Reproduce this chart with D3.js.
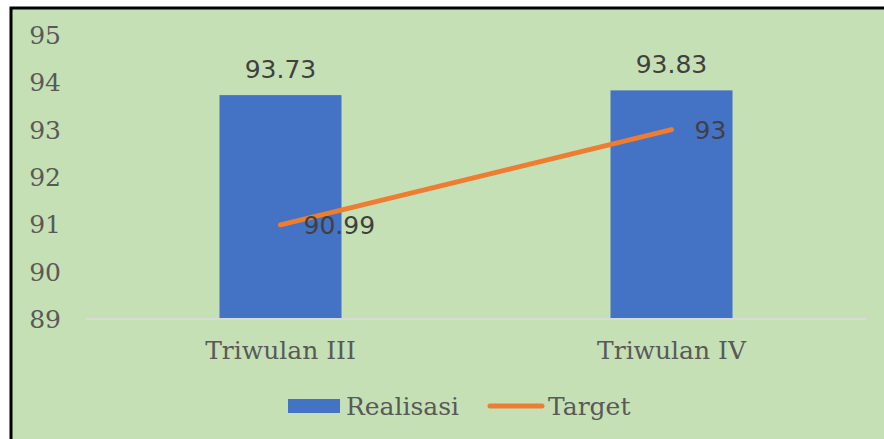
<!DOCTYPE html>
<html>
<head>
<meta charset="utf-8">
<script src="https://cdnjs.cloudflare.com/ajax/libs/d3/7.8.5/d3.min.js"></script>
<style>
  body { margin: 0; background: #fff; }
</style>
</head>
<body>
<svg id="chart"></svg>
<script>
  // chart data
  var categories = ['Triwulan III', 'Triwulan IV'];
  var realisasi  = [93.73, 93.83];
  var target     = [90.99, 93];
  var yTicks     = [89, 90, 91, 92, 93, 94, 95];
  var legendKeys = ['Realisasi', 'Target'];

  var width  = 884,
      height = 439,
      blue   = '#4472C4',
      orange = '#ED7D31',
      serif  = '"DejaVu Serif", "Liberation Serif", serif',
      sans   = '"DejaVu Sans", Verdana, sans-serif';

  var svg = d3.select('#chart').attr('width', width).attr('height', height);

  // green panel with black border (cut off at right and bottom)
  svg.append('rect')
     .attr('x', 11).attr('y', 8)
     .attr('width', width + 20).attr('height', height + 20)
     .attr('fill', '#C5E0B4')
     .attr('stroke', '#000').attr('stroke-width', 3);

  var x = d3.scaleBand().domain(categories).range([85, 867]).paddingInner(0).paddingOuter(0);
  var y = d3.scaleLinear().domain([89, 95]).range([319, 35]);
  var barW = 122;

  // y tick labels
  svg.append('g').selectAll('text')
     .data(yTicks).enter().append('text')
     .attr('x', 61).attr('y', function(d) { return y(d); })
     .attr('dy', '0.36em')
     .attr('text-anchor', 'end')
     .style('font-family', serif).style('font-size', '25px')
     .attr('fill', '#595959')
     .text(function(d) { return d; });

  // bars
  svg.append('g').selectAll('rect')
     .data(realisasi).enter().append('rect')
     .attr('x', function(d, i) { return x(categories[i]) + x.bandwidth() / 2 - barW / 2; })
     .attr('y', function(d) { return y(d); })
     .attr('width', barW)
     .attr('height', function(d) { return y(89) - y(d); })
     .attr('fill', blue);

  // axis line
  svg.append('line')
     .attr('x1', 85).attr('x2', 867)
     .attr('y1', y(89)).attr('y2', y(89))
     .attr('stroke', '#D9D9D9').attr('stroke-width', 2);

  // category labels
  svg.append('g').selectAll('text')
     .data(categories).enter().append('text')
     .attr('x', function(d) { return x(d) + x.bandwidth() / 2; })
     .attr('y', 350).attr('dy', '0.36em')
     .attr('text-anchor', 'middle')
     .style('font-family', serif).style('font-size', '25px')
     .attr('fill', '#595959')
     .text(function(d) { return d; });

  // bar value labels
  svg.append('g').selectAll('text')
     .data(realisasi).enter().append('text')
     .attr('x', function(d, i) { return x(categories[i]) + x.bandwidth() / 2; })
     .attr('y', function(d) { return y(d) - 17; })
     .attr('text-anchor', 'middle')
     .style('font-family', sans).style('font-size', '25px')
     .attr('fill', '#404040')
     .text(function(d) { return d.toFixed(2); });

  // target line
  var line = d3.line()
     .x(function(d, i) { return x(categories[i]) + x.bandwidth() / 2; })
     .y(function(d) { return y(d); });

  svg.append('path')
     .attr('d', line(target))
     .attr('fill', 'none')
     .attr('stroke', orange).attr('stroke-width', 5)
     .attr('stroke-linecap', 'round');

  svg.append('g').selectAll('text')
     .data(target).enter().append('text')
     .attr('x', function(d, i) { return x(categories[i]) + x.bandwidth() / 2 + 23; })
     .attr('y', function(d) { return y(d); })
     .attr('dy', '0.36em')
     .style('font-family', sans).style('font-size', '25px')
     .attr('fill', '#404040')
     .text(function(d) { return String(d); });

  // legend
  var lg = svg.append('g').attr('transform', 'translate(0,406)');
  lg.append('rect').attr('x', 288).attr('y', -7).attr('width', 52).attr('height', 14).attr('fill', blue);
  lg.append('line').attr('x1', 490).attr('x2', 542).attr('y1', 0).attr('y2', 0)
    .attr('stroke', orange).attr('stroke-width', 5).attr('stroke-linecap', 'round');
  lg.selectAll('text')
    .data(legendKeys).enter().append('text')
    .attr('x', function(d, i) { return i === 0 ? 346 : 548; })
    .attr('y', 0).attr('dy', '0.36em')
    .style('font-family', serif).style('font-size', '25px')
    .attr('fill', '#595959')
    .text(function(d) { return d; });
</script>
</body>
</html>
